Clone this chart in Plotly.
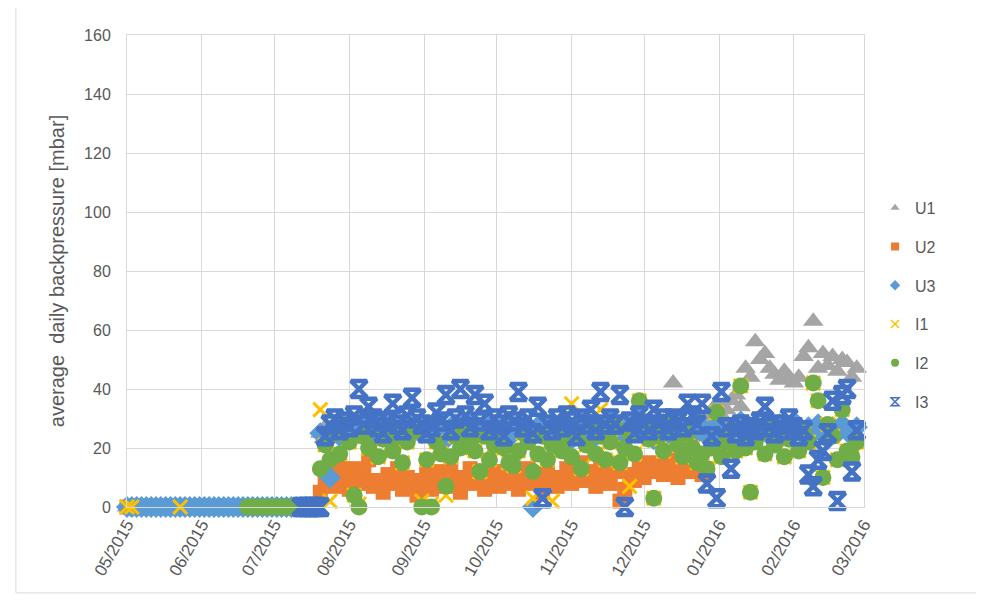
import pandas as pd
import plotly.graph_objects as go

# ---------------- data ----------------
# one sample every 2 days from 2015-05-01 (40 samples up to 2015-07-18), then 112 samples from 2015-07-20
START_DATE = "2015-05-01"
N_POINTS = 152

SERIES_NAMES = ["U1", "U2", "U3", "I1", "I2", "I3"]

U1_early = [0, 0, 0, 0, 0, 0, 0, 0, 0, 0, 0, 0, 0, 0, 0, 0, 0, 0, 0, 0,
            0, 0, 0, 0, 0, 0, 0, 0, 0, 0, 0, 0, 0, 0, 0, 0, 0, 0, 0, 0]
U2_early = [0, 0, 0, 0, 0, 0, 0, 0, 0, 0, 0, 0, 0, 0, 0, 0, 0, 0, 0, 0,
            0, 0, 0, 0, 0, 0, 0, 0, 0, 0, 0, 0, 0, 0, 0, 0, 0, 0, 0, 0]
U3_early = [0, 0, 0, 0, 0, 0, 0, 0, 0, 0, 0, 0, 0, 0, 0, 0, 0, 0, 0, 0,
            0, 0, 0, 0, 0, 0, 0, 0, 0, 0, 0, 0, 0, 0, 0, 0, 0, 0, 0, 0]
I1_early = [0, 0, None, None, None, None, None, None, None, None, None, 0, None, None, None, None, None, None, None, None,
            None, None, None, None, None, None, None, None, None, None, None, None, None, None, None, None, None, None, None, None]
I2_early = [None, None, None, None, None, None, None, None, None, None, None, None, None, None, None, None, None, None, None, None,
            None, None, None, None, None, 0, 0, 0, 0, 0, 0, 0, 0, 0, 0, 0, 0, 0, 0, 0]
I3_early = [None, None, None, None, None, None, None, None, None, None, None, None, None, None, None, None, None, None, None, None,
            None, None, None, None, None, None, None, None, None, None, None, None, None, None, None, None, 0, 0, 0, 0]

U1_late = [25, 27, 24, 26, 28, 25, 27, 23, 26, 28,
           24, 27, 25, 29, 26, 24, 28, 25, 27, 26,
           28, 24, 26, 27, 25, 29, 24, 26, 28, 25,
           27, 25, 28, 24, 26, 29, 25, 27, 24, 26,
           28, 25, 27, 26, 24, 28, 26, 25, 29, 27,
           25, 28, 26, 24, 27, 29, 25, 26, 28, 24,
           27, 25, 28, 26, 29, 24, 27, 25, 28, 26,
           27, 29, 26, 42, 27, 28, 26, 29, 30, 28,
           30, 32, 35, 31, 33, 36, 38, 34, 47, 44,
           56, 50, 52, 47, 45, 43, 46, 44, 42, 44,
           51, 54, 63, 47, 52, 48, 51, 46, 50, 49, 44, 47]
U2_late = [5, 9, 12, 7, 14, 10, 6, 13, 8, 11,
           16, 7, 9, 5, 11, 8, 13, 6, 10, 9,
           4, 8, 11, 6, 10, 12, 7, 14, 9, 5,
           10, 13, 8, 11, 6, 9, 12, 7, 10, 8,
           11, 6, 9, 13, 8, 10, 5, 12, 9, 7,
           10, 13, 8, 11, 15, 9, 12, 7, 14, 10,
           8, 12, 2, 6, 11, 9, 13, 10, 15, 12,
           14, 11, 16, 13, 10, 15, 12, 17, 14, 11,
           13, None, None, None, None, None, None, None, None, None,
           None, None, None, None, None, None, None, None, None, None,
           None, None, None, None, None, None, None, None, None, None, None, None]
U3_late = [25, 22, 10, 27, 24, 28, 23, 26, 25, 29,
           27, 24, 26, 29, 23, 27, 25, 28, 24, 26,
           28, 25, 27, 24, 29, 26, 23, 27, 28, 25,
           26, 29, 24, 27, 25, 28, 26, 23, 27, 29,
           25, 27, 28, 24, 0, 26, 29, 25, 27, 24,
           28, 26, 23, 27, 29, 25, 28, 24, 26, 27,
           29, 25, 27, 24, 28, 26, 30, 25, 27, 23,
           26, 28, 25, 29, 27, 24, 26, 28, 25, 27,
           24, 26, 28, 25, 27, 23, 26, 29, 25, 27,
           28, 25, 27, 24, 26, 28, 25, 27, 29, 26,
           24, 27, 25, 28, 26, 23, 27, 25, 28, 26, 24, 27]
I1_late = [33, 21, 2, 25, 18, 28, 22, 4, 1, 24,
           20, 26, 17, 23, 27, 19, 24, 15, 22, 26,
           26, 2, 16, 1, 22, 18, 4, 17, 24, 20,
           27, 22, 19, 12, 24, 16, 21, 26, 20, 15,
           14, 19, 25, 22, 3, 18, 24, 16, 2, 27,
           19, 23, 35, 25, 13, 21, 28, 18, 33, 16,
           22, 27, 15, 20, 7, 18, 36, 29, 23, 3,
           24, 19, 27, 30, 21, 17, 25, 20, 15, 18,
           13, 20, 32, 17, 22, 26, 19, 41, 20, 5,
           22, 25, 18, 28, 21, 24, 17, 23, 27, 19,
           25, 22, 42, 36, 10, 28, 24, 16, 33, 19, 17, 22]
I2_late = [13, 21, 16, 25, 18, 28, 22, 4, 0, 24,
           20, 26, 17, 23, 27, 19, 24, 15, 22, 26,
           26, 0, 16, 0, 22, 18, 7, 17, 24, 20,
           27, 22, 19, 12, 24, 16, 21, 26, 20, 15,
           14, 19, 25, 22, 12, 18, 24, 16, 21, 27,
           19, 23, 17, 25, 13, 21, 28, 18, 24, 16,
           22, 27, 15, 20, 25, 18, 36, 29, 23, 3,
           24, 19, 27, 30, 21, 17, 25, 20, 15, 18,
           13, 20, 32, 17, 22, 26, 19, 41, 20, 5,
           22, 25, 18, 28, 21, 24, 17, 23, 27, 19,
           25, 22, 42, 36, 10, 28, 24, 16, 33, 19, 17, 22]
I3_late = [0, 24, 28, 30, 26, 29, 27, 31, 40, 28,
           34, 30, 27, 25, 29, 35, 28, 26, 31, 37,
           30, 28, 25, 27, 32, 29, 38, 26, 30, 40,
           31, 27, 38, 29, 35, 26, 30, 28, 24, 31,
           29, 39, 27, 30, 25, 34, 3, 28, 26, 30,
           27, 31, 29, 24, 30, 28, 33, 26, 39, 28,
           30, 28, 38, 0, 29, 25, 31, 28, 26, 33,
           28, 30, 26, 30, 29, 27, 35, 31, 28, 35,
           8, 24, 3, 39, 27, 13, 25, 28, 24, 27,
           26, 29, 34, 27, 25, 28, 26, 30, 27, 24,
           26, 11, 7, 16, 19, 25, 36, 2, 38, 40, 12, 26]

Y_TICKS = [0, 20, 40, 60, 80, 100, 120, 140, 160]

# ---------------- figure ----------------
dates = pd.date_range(START_DATE, periods=N_POINTS, freq="2D")
values = {
    "U1": U1_early + U1_late,
    "U2": U2_early + U2_late,
    "U3": U3_early + U3_late,
    "I1": I1_early + I1_late,
    "I2": I2_early + I2_late,
    "I3": I3_early + I3_late,
}
styles = {
    "U1": dict(symbol="triangle-up", color="#A5A5A5", size=18),
    "U2": dict(symbol="square", color="#ED7D31", size=15),
    "U3": dict(symbol="diamond", color="#5B9BD5", size=17),
    "I1": dict(symbol="x-thin-open", color="#FFC000", size=14, lw=3),
    "I2": dict(symbol="circle", color="#70AD47", size=17),
    "I3": dict(symbol="hourglass-open", color="#4472C4", size=16, lw=4.5),
}

fig = go.Figure()
for name in SERIES_NAMES:
    st = styles[name]
    mk = dict(symbol=st["symbol"], color=st["color"], size=st["size"])
    if "lw" in st:
        mk["line"] = dict(width=st["lw"], color=st["color"])
    else:
        mk["line"] = dict(width=0)
    fig.add_trace(go.Scatter(x=dates, y=values[name], mode="markers", name=name,
                             marker=mk, showlegend=False, cliponaxis=False,
                             hoverinfo="x+y+name"))
# legend-only entries with small markers
for name in SERIES_NAMES:
    st = styles[name]
    mk = dict(symbol=st["symbol"], color=st["color"], size=8)
    if "lw" in st:
        mk["line"] = dict(width=1.5, color=st["color"])
    else:
        mk["line"] = dict(width=0)
    fig.add_trace(go.Scatter(x=[None], y=[None], mode="markers", name=name,
                             marker=mk, showlegend=True, legendgroup=name))

GRID = "#D9D9D9"
TXT = "#595959"
FONT = "Liberation Sans, Arial, sans-serif"

fig.update_layout(
    width=984, height=607,
    margin=dict(l=119, r=128, t=27, b=108),
    paper_bgcolor="white", plot_bgcolor="white",
    font=dict(family=FONT, color=TXT, size=16),
    legend=dict(x=1.015, xanchor="left", y=0.67, yanchor="top",
                font=dict(size=16, color=TXT), tracegroupgap=15,
                itemwidth=30, bgcolor="rgba(0,0,0,0)"),
    xaxis=dict(type="date", range=["2015-05-01", "2016-03-01"],
               dtick="M1", tick0="2015-05-01", tickformat="%m/%Y",
               tickangle=-60, showgrid=True, gridcolor=GRID, gridwidth=1,
               showline=True, linecolor=GRID, mirror=True, zeroline=False,
               ticks="", tickfont=dict(size=17, color=TXT)),
    yaxis=dict(range=[0, 160], tickvals=Y_TICKS, showgrid=True, gridcolor=GRID,
               gridwidth=1, showline=True, linecolor=GRID, mirror=True,
               zeroline=False, ticks="outside", ticklen=12, tickcolor="rgba(0,0,0,0)",
               tickfont=dict(size=16, color=TXT),
               title=dict(text="average  daily backpressure [mbar]",
                          font=dict(size=20, color=TXT), standoff=14)),
    shapes=[dict(type="rect", xref="paper", yref="paper",
                 x0=-0.1507, x1=1.1547, y0=-0.182, y1=1.064,
                 line=dict(color="#D9D9D9", width=1), fillcolor="rgba(0,0,0,0)",
                 layer="below")],
)

fig.write_html("out.html")
